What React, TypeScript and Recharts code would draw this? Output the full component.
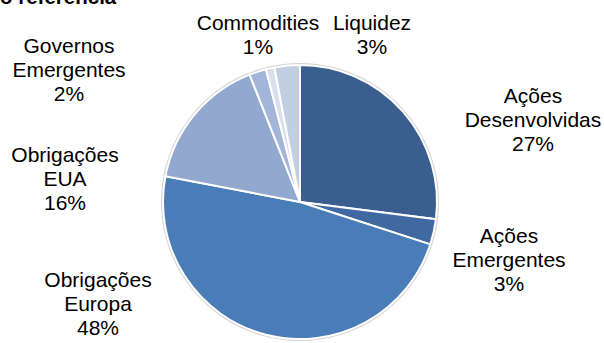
import React from 'react';
import { PieChart, Pie, Cell } from 'recharts';

const categories = [
  'Ações Desenvolvidas',
  'Ações Emergentes',
  'Obrigações Europa',
  'Obrigações EUA',
  'Governos Emergentes',
  'Commodities',
  'Liquidez',
];
const values = [27, 3, 48, 16, 2, 1, 3];
const colors = ['#3A5F8E', '#3F69A0', '#4A7CB8', '#93A8CF', '#A3B5D8', '#D8E0EE', '#C2CEE3'];

// label anchor offsets from pie centre (first line baseline), layout only
const labelOffsets: [number, number][] = [
  [233, -99],
  [209, 41],
  [-202, 85],
  [-235, -40],
  [-231, -149],
  [-42, -172],
  [72, -172],
];

const data = categories.map((name, i) => ({ name, value: values[i] }));
const FONT = '"Liberation Sans", Arial, sans-serif';

const renderLabel = (props: any) => {
  const { cx, cy, index, name, value } = props;
  const [dx, dy] = labelOffsets[index];
  const lines = [...String(name).split(' '), `${value}%`];
  const x = cx + dx;
  const y = cy + dy;
  return (
    <text x={x} y={y} textAnchor="middle" fontFamily={FONT} fontSize={21} fill="#000">
      {lines.map((l, i) => (
        <tspan key={i} x={x} y={y + i * 24}>
          {l}
        </tspan>
      ))}
    </text>
  );
};

export default function App() {
  return (
    <div style={{ position: 'absolute', left: 0, top: 0, width: 604, height: 343, background: '#fff' }}>
      <PieChart width={604} height={343} margin={{ top: 0, right: 0, bottom: 0, left: 0 }}>
        <Pie
          data={[{ v: 1 }]}
          dataKey="v"
          cx={300}
          cy={202}
          outerRadius={139}
          fill="#d4d4d4"
          stroke="none"
          isAnimationActive={false}
        />
        <Pie
          data={data}
          dataKey="value"
          nameKey="name"
          cx={300}
          cy={202}
          outerRadius={137}
          startAngle={90}
          endAngle={-270}
          stroke="#fff"
          strokeWidth={2}
          label={renderLabel}
          labelLine={false}
          isAnimationActive={false}
        >
          {data.map((d, i) => (
            <Cell key={d.name} fill={colors[i]} />
          ))}
        </Pie>
      </PieChart>
      <svg width={604} height={343} style={{ position: 'absolute', left: 0, top: 0, pointerEvents: 'none' }}>
        <text x={0} y={4} fontFamily={FONT} fontSize={20.5} fontWeight="bold" fill="#000">
          o referência
        </text>
      </svg>
    </div>
  );
}
